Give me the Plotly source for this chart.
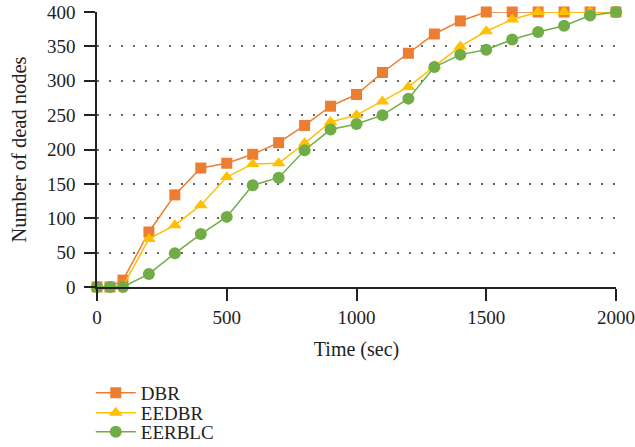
import plotly.graph_objects as go

time_sec = [0, 50, 100, 200, 300, 400, 500, 600, 700, 800, 900, 1000,
            1100, 1200, 1300, 1400, 1500, 1600, 1700, 1800, 1900, 2000]
dbr = [0, 0, 10, 80, 134, 173, 180, 193, 210, 235, 263, 280,
       312, 340, 368, 387, 400, 400, 400, 400, 400, 400]
eedbr = [0, 0, 1, 70, 90, 119, 160, 179, 180, 209, 240, 250,
         270, 291, 321, 350, 372, 389, 400, 400, 400, 400]
eerblc = [0, 0, 0, 19, 49, 77, 102, 148, 159, 199, 229, 237,
          250, 274, 320, 338, 345, 360, 371, 380, 395, 400]

FONT = "Liberation Serif"
TXT = "#222"
fig = go.Figure()
series = [
    ("DBR", dbr, "#ED7D31", "square", 11, "legend"),
    ("EEDBR", eedbr, "#FFC000", "triangle-up", 12, "legend2"),
    ("EERBLC", eerblc, "#70AD47", "circle", 12, "legend3"),
]
for name, vals, color, sym, sz, lg in series:
    fig.add_trace(go.Scatter(
        x=time_sec, y=vals, name=name, mode="lines+markers",
        line=dict(color=color, width=1.5),
        marker=dict(symbol=sym, size=sz, color=color),
        cliponaxis=False, legend=lg,
    ))

def leg(y):
    return dict(x=-0.012, xanchor="left", y=y, yanchor="middle",
                bgcolor="rgba(0,0,0,0)", itemwidth=40,
                font=dict(family=FONT, size=19, color=TXT))

fig.update_layout(
    width=635, height=447,
    margin=dict(l=97, r=19, t=12, b=160, autoexpand=False),
    paper_bgcolor="white", plot_bgcolor="white",
    font=dict(family=FONT, size=19, color=TXT),
    showlegend=True,
    legend=leg(-0.385),
    legend2=leg(-0.458),
    legend3=leg(-0.527),
)
fig.update_xaxes(
    range=[0, 2000], tickvals=[0, 500, 1000, 1500, 2000],
    tickfont=dict(family=FONT, size=19, color=TXT),
    showgrid=False, zeroline=False, automargin=False,
    showline=True, linecolor=TXT, linewidth=1.5,
    ticks="outside", ticklen=12, tickwidth=1.5, tickcolor=TXT,
    title=dict(text="Time (sec)", font=dict(family=FONT, size=20, color=TXT)),
)
fig.update_yaxes(
    range=[0, 400], tickvals=list(range(0, 401, 50)),
    tickfont=dict(family=FONT, size=19, color=TXT),
    ticklabelstandoff=5,
    showgrid=True, gridcolor="#666", gridwidth=2, griddash="2px,10px",
    zeroline=False, automargin=False,
    showline=True, linecolor=TXT, linewidth=1.5,
    ticks="outside", ticklen=11, tickwidth=1.5, tickcolor=TXT,
    title=dict(text="Number of dead nodes", font=dict(family=FONT, size=20.5, color=TXT)),
)
fig.write_html("out.html")
